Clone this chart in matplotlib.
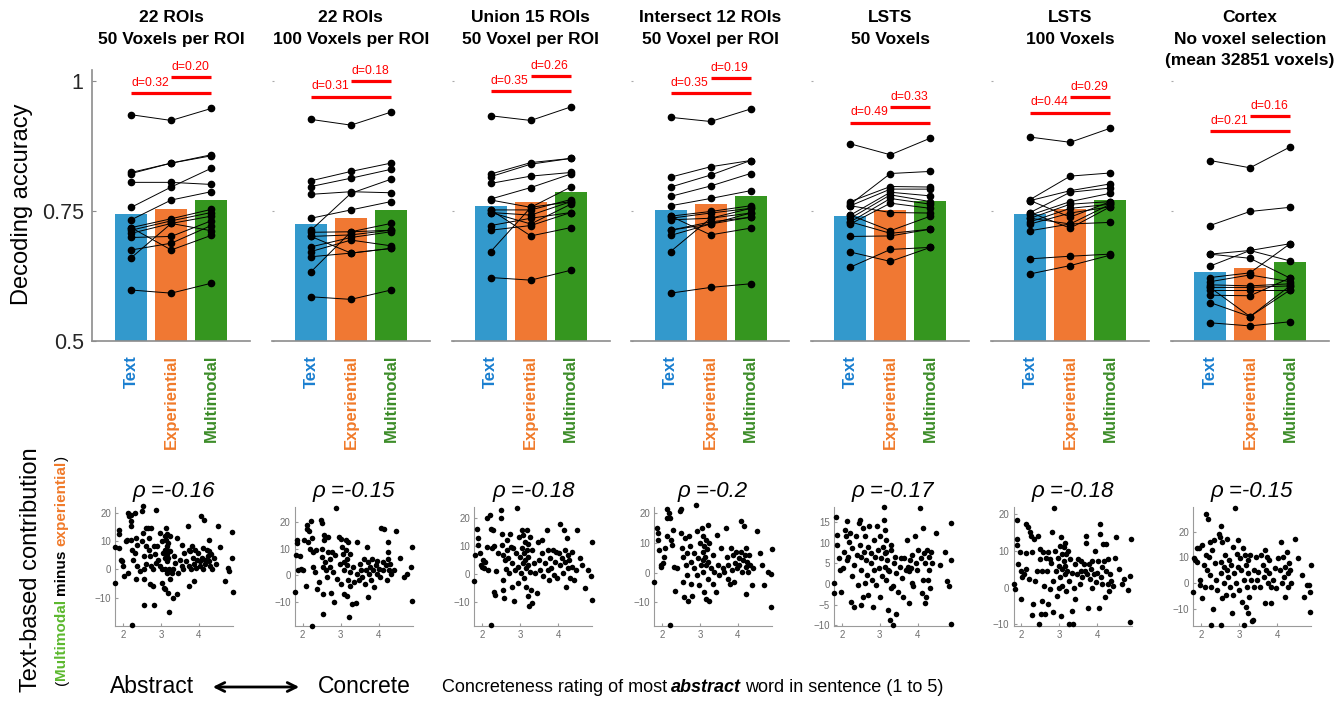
import matplotlib
matplotlib.use('Agg')
import matplotlib.pyplot as plt
from matplotlib.patches import FancyArrowPatch

plt.rcParams['font.family'] = ['Liberation Sans', 'DejaVu Sans']

# ---- top row: decoding accuracy ----
titles = [["22 ROIs", "50 Voxels per ROI"],
          ["22 ROIs", "100 Voxels per ROI"],
          ["Union 15 ROIs", "50 Voxel per ROI"],
          ["Intersect 12 ROIs", "50 Voxel per ROI"],
          ["LSTS", "50 Voxels"],
          ["LSTS", "100 Voxels"],
          ["Cortex", "No voxel selection", "(mean 32851 voxels)"]]
models = ["Text", "Experiential", "Multimodal"]

text_mean = [0.744, 0.725, 0.760, 0.751, 0.741, 0.745, 0.633]
exp_mean = [0.754, 0.736, 0.767, 0.764, 0.751, 0.754, 0.640]
multi_mean = [0.771, 0.752, 0.786, 0.778, 0.769, 0.771, 0.651]

d_text_multi = [0.32, 0.31, 0.35, 0.35, 0.49, 0.44, 0.21]
d_exp_multi = [0.20, 0.18, 0.26, 0.19, 0.33, 0.29, 0.16]

# per-subject accuracies (14 subjects)
p1_text = [.935, .824, .822, .805, .757, .733, .718, .713, .707, .699, .675, .660, .718, .598]
p1_exp = [.924, .842, .842, .805, .796, .771, .735, .731, .726, .701, .688, .726, .675, .592]
p1_multi = [.947, .858, .856, .801, .832, .787, .753, .747, .740, .731, .722, .712, .703, .611]

p2_text = [.926, .808, .797, .782, .736, .713, .709, .701, .681, .672, .662, .633, .701, .585]
p2_exp = [.915, .826, .813, .787, .752, .784, .710, .704, .699, .694, .669, .710, .669, .580]
p2_multi = [.940, .842, .830, .785, .768, .811, .726, .713, .710, .683, .678, .713, .678, .598]

p3_text = [.933, .821, .816, .803, .773, .771, .752, .747, .747, .722, .713, .752, .672, .622]
p3_exp = [.924, .843, .840, .817, .795, .757, .752, .742, .725, .736, .722, .702, .757, .617]
p3_multi = [.950, .851, .851, .824, .821, .796, .772, .768, .763, .747, .747, .718, .768, .636]

p4_text = [.930, .815, .796, .778, .760, .740, .736, .733, .713, .703, .740, .672, .713, .592]
p4_exp = [.922, .835, .819, .798, .774, .749, .746, .736, .729, .725, .704, .736, .725, .603]
p4_multi = [.946, .847, .847, .822, .789, .760, .755, .746, .738, .746, .717, .755, .738, .610]

p5_text = [.879, .763, .768, .760, .742, .736, .729, .725, .760, .742, .729, .701, .671, .642]
p5_exp = [.858, .822, .797, .792, .786, .781, .774, .765, .747, .712, .707, .702, .653, .676]
p5_multi = [.890, .826, .796, .792, .779, .768, .763, .755, .746, .740, .715, .715, .680, .680]

p6_text = [.892, .772, .770, .747, .742, .736, .729, .725, .770, .712, .747, .736, .658, .629]
p6_exp = [.882, .817, .789, .786, .768, .763, .755, .746, .738, .725, .717, .725, .663, .645]
p6_multi = [.909, .823, .802, .794, .784, .768, .763, .758, .768, .763, .758, .728, .667, .665]

p7_text = [.847, .722, .667, .667, .644, .622, .614, .608, .603, .598, .588, .574, .603, .535]
p7_exp = [.833, .749, .674, .659, .674, .631, .627, .606, .603, .598, .587, .547, .547, .529]
p7_multi = [.873, .757, .687, .621, .654, .687, .614, .610, .606, .598, .621, .606, .598, .537]

# ---- bottom row: concreteness vs text-based contribution ----
rho = [-0.16, -0.15, -0.18, -0.2, -0.17, -0.18, -0.15]

s1_pts = [(1.79, -4.7), (1.80, 8.0), (1.90, 7.5), (1.89, 14.0), (1.89, 12.7), (1.94, 3.5), (1.98, 3.0), (2.00, 1.2), (2.07, 10.0), (2.04, -2.4),
          (2.10, 10.4), (2.13, 20.0), (2.16, 18.8), (2.20, 17.0), (2.22, 15.3), (2.22, 19.4), (2.25, -19.5), (2.20, 10.6), (2.25, 7.0), (2.27, 3.5),
          (2.31, 20.0), (2.34, 11.2), (2.31, 5.9), (2.14, -1.4), (2.34, -3.5), (2.37, 8.8), (2.37, 1.2), (2.44, -0.6), (2.49, 20.6), (2.53, 22.4),
          (2.53, 12.9), (2.51, 10.0), (2.55, 4.7), (2.55, 0.0), (2.55, -3.5), (2.55, -12.7), (2.60, 14.7), (2.62, 8.2), (2.62, 1.8), (2.66, 14.7),
          (2.69, 11.2), (2.69, 7.0), (2.70, 4.7), (2.72, -5.3), (2.75, 14.7), (2.75, 1.2), (2.78, -5.9), (2.80, 0.0), (2.81, -12.7), (2.82, 8.2),
          (2.84, 5.3), (2.88, 21.2), (2.88, 2.4), (2.90, 8.2), (2.93, 3.5), (2.97, 1.2), (2.97, 12.9), (3.02, 0.0), (3.02, -4.7), (3.04, 10.0),
          (3.06, 5.9), (3.08, -6.5), (3.10, 11.8), (3.10, 7.0), (3.10, 4.1), (3.10, 0.0), (3.12, -7.0), (3.13, 14.7), (3.13, 10.6), (3.15, 8.2),
          (3.15, 5.3), (3.15, 2.9), (3.15, -1.2), (3.17, 12.4), (3.17, 7.0), (3.19, -8.2), (3.19, 9.4), (3.19, 4.1), (3.22, -15.0), (3.22, 0.0),
          (3.24, 11.8), (3.24, 6.5), (3.24, -3.5), (3.28, -1.2), (3.31, -10.0), (3.33, 0.0), (3.35, 4.7), (3.37, 2.4), (3.42, -8.8), (3.43, 11.2),
          (3.46, -1.2), (3.50, 3.5), (3.55, 8.8), (3.55, 1.2), (3.59, 0.0), (3.61, 5.9), (3.66, 2.9), (3.71, 15.5), (3.73, 7.0), (3.73, -5.9),
          (3.75, 1.2), (3.77, 6.5), (3.78, 0.0), (3.81, 8.2), (3.84, 4.1), (3.86, 1.8), (3.88, -4.1), (3.90, 7.0), (3.93, 0.6), (3.95, 3.5),
          (3.99, 5.9), (4.02, 2.9), (4.04, 1.2), (4.05, 18.8), (4.08, 4.1), (4.11, 7.6), (4.11, 0.0), (4.14, 17.6), (4.17, 3.5), (4.17, 1.8),
          (4.21, 7.0), (4.23, 4.7), (4.26, 10.6), (4.26, 6.5), (4.28, 2.9), (4.30, 1.2), (4.32, 5.3), (4.35, 0.0), (4.39, 4.1), (4.46, 1.8),
          (4.50, 15.3), (4.57, 8.0), (4.70, -4.1), (4.76, 0.6), (4.79, -0.6), (4.88, 13.2), (4.88, 4.1), (4.89, -7.8)]

s2_pts = [(1.80, -6.3), (1.82, 7.6), (1.84, 13.3), (1.86, 12.0), (1.88, 1.9), (1.93, 7.2), (1.96, 2.5), (2.02, 1.9), (2.04, 13.3), (2.09, -3.8),
          (2.11, 19.0), (2.12, 17.3), (2.15, 12.7), (2.18, 16.5), (2.20, 10.0), (2.21, 20.3), (2.24, 14.0), (2.24, -19.0), (2.27, 8.9), (2.28, 3.2),
          (2.33, 1.3), (2.36, 9.5), (2.37, -5.0), (2.44, -2.5), (2.48, 20.9), (2.51, 19.6), (2.51, 10.0), (2.51, 7.0), (2.53, 3.2), (2.53, -6.9),
          (2.53, -14.5), (2.55, 15.2), (2.57, 13.3), (2.60, 5.0), (2.62, 1.9), (2.64, -0.6), (2.66, 8.9), (2.68, 14.4), (2.71, 6.3), (2.73, 3.2),
          (2.75, -6.6), (2.77, 8.9), (2.80, 1.3), (2.82, -10.0), (2.86, 7.6), (2.89, 25.4), (2.91, -1.3), (2.95, 14.4), (2.98, 4.4), (3.00, -3.2),
          (3.01, 13.8), (3.04, 10.6), (3.07, 8.1), (3.08, 5.0), (3.08, 1.9), (3.10, -6.9), (3.13, 13.3), (3.13, 9.5), (3.16, 6.3), (3.16, 3.8),
          (3.17, -7.6), (3.19, 12.7), (3.19, -1.9), (3.22, -15.8), (3.24, 8.1), (3.26, 1.3), (3.26, -3.8), (3.31, -10.6), (3.33, 3.2), (3.35, -2.5),
          (3.40, -10.4), (3.42, 0.6), (3.44, 12.7), (3.48, -1.9), (3.51, 4.4), (3.53, 1.9), (3.57, -0.6), (3.62, 6.3), (3.64, -3.2), (3.66, 1.9),
          (3.69, 10.6), (3.71, -8.1), (3.72, 5.0), (3.75, 0.6), (3.78, 3.2), (3.81, -1.9), (3.84, 6.3), (3.86, 1.9), (3.88, -4.4), (3.93, 3.8),
          (3.96, 0.6), (3.97, 5.6), (4.02, 2.5), (4.04, -0.6), (4.06, 17.9), (4.11, 5.0), (4.13, 1.9), (4.15, 17.5), (4.20, 3.8), (4.22, -1.9),
          (4.24, 8.9), (4.26, 12.7), (4.26, 6.3), (4.28, 1.9), (4.31, 4.4), (4.33, 0.6), (4.40, 1.9), (4.47, 16.5), (4.56, 6.7), (4.67, -0.6),
          (4.75, 0.6), (4.86, 3.2), (4.89, 10.5), (4.88, -9.5)]

s3_pts = [(1.78, -2.7), (1.80, 6.7), (1.87, 16.2), (1.88, 12.7), (1.88, 10.3), (1.93, 7.3), (1.96, 3.2), (1.99, 2.6), (2.02, 5.0), (2.04, 2.0),
          (2.06, 4.4), (2.11, 9.7), (2.13, 19.8), (2.15, 1.4), (2.19, 21.0), (2.22, 16.2), (2.24, -18.1), (2.26, 9.1), (2.28, 15.6), (2.31, 9.9),
          (2.31, -6.6), (2.33, -7.5), (2.35, 1.2), (2.42, 7.6), (2.50, 23.0), (2.50, 19.8), (2.52, 14.4), (2.52, 10.3), (2.54, 6.7), (2.55, -2.1),
          (2.55, -5.7), (2.58, -8.6), (2.59, 5.0), (2.61, 1.7), (2.64, 12.1), (2.66, 8.5), (2.68, 5.6), (2.70, 0.2), (2.73, 14.4), (2.75, 9.7),
          (2.77, -4.5), (2.79, 3.8), (2.81, 9.1), (2.84, -9.8), (2.86, 1.4), (2.88, 7.3), (2.90, 23.7), (2.93, 2.6), (2.95, -3.3), (2.96, 13.3),
          (2.99, 6.2), (3.02, 0.2), (3.04, 15.6), (3.05, 9.1), (3.08, 3.8), (3.08, 13.8), (3.11, 7.3), (3.11, -1.5), (3.12, 11.5), (3.12, 5.0),
          (3.14, 2.0), (3.14, -4.5), (3.17, 15.6), (3.17, 8.5), (3.19, 6.2), (3.19, -8.0), (3.21, 10.6), (3.21, 3.2), (3.23, -11.6), (3.26, 13.3),
          (3.26, 0.8), (3.28, -5.7), (3.30, 8.5), (3.32, -10.4), (3.35, 3.8), (3.39, 0.2), (3.43, -6.9), (3.46, 11.5), (3.48, 5.0), (3.52, 1.4),
          (3.57, 12.1), (3.58, 7.3), (3.61, -0.9), (3.65, 3.8), (3.70, 15.6), (3.73, 8.5), (3.74, 1.4), (3.76, -2.1), (3.79, 5.6), (3.81, 2.0),
          (3.85, 8.5), (3.88, -0.4), (3.92, 4.4), (3.94, 7.9), (3.96, -1.5), (4.01, 7.3), (4.05, 18.0), (4.05, 3.2), (4.10, 5.6), (4.12, 0.2),
          (4.14, 15.6), (4.17, 8.5), (4.19, 4.4), (4.20, -4.5), (4.23, 12.7), (4.26, 2.0), (4.27, 6.7), (4.29, 5.0), (4.32, -1.5), (4.35, 7.9),
          (4.36, 2.6), (4.41, -2.1), (4.47, 1.4), (4.50, 15.6), (4.58, 5.6), (4.63, 3.2), (4.70, -5.1), (4.79, 1.4), (4.85, -0.9), (4.89, 11.5),
          (4.88, -9.2)]

s4_pts = [(1.78, -3.2), (1.87, 15.0), (1.88, 13.3), (1.88, 11.0), (1.91, 7.6), (1.96, 2.5), (1.97, 1.9), (2.03, 3.1), (2.06, 5.3), (2.09, 8.2),
          (2.12, 12.2), (2.13, 21.3), (2.13, 18.4), (2.18, 20.1), (2.20, 18.4), (2.22, -17.4), (2.24, 11.0), (2.27, 9.3), (2.29, 14.4), (2.31, 1.9),
          (2.34, -6.0), (2.40, 1.4), (2.47, 20.7), (2.51, 21.3), (2.51, 13.3), (2.53, 8.2), (2.56, 5.3), (2.56, -3.2), (2.58, -8.3), (2.60, 11.6),
          (2.62, 2.5), (2.65, 6.5), (2.67, -0.9), (2.68, -9.4), (2.71, 12.2), (2.74, 8.8), (2.76, -3.8), (2.77, 3.6), (2.80, -7.7), (2.83, 6.5),
          (2.84, 1.4), (2.89, 22.7), (2.92, -0.9), (2.93, 13.9), (2.95, 4.8), (2.98, -4.3), (3.00, 9.9), (3.02, 2.5), (3.04, 15.0), (3.07, 7.0),
          (3.07, 0.2), (3.09, 12.2), (3.09, 4.2), (3.11, 8.8), (3.11, -6.6), (3.13, 5.3), (3.16, 11.0), (3.16, 2.5), (3.16, -8.9), (3.18, 8.0),
          (3.20, 16.1), (3.20, -2.0), (3.22, 3.6), (3.24, 9.9), (3.24, -9.4), (3.29, 1.4), (3.33, -3.8), (3.33, 5.9), (3.38, 0.2), (3.42, -6.6),
          (3.45, 12.7), (3.47, 2.5), (3.51, -0.9), (3.56, 8.2), (3.60, 1.4), (3.64, 0.2), (3.69, 15.0), (3.72, 5.3), (3.73, -2.0), (3.75, 2.5),
          (3.78, -3.8), (3.82, 8.2), (3.84, 0.8), (3.87, 5.9), (3.89, -3.2), (3.91, 3.1), (3.96, 7.0), (3.98, 1.4), (4.02, 4.8), (4.04, 2.5),
          (4.07, 17.3), (4.09, 7.0), (4.11, 0.2), (4.13, 4.2), (4.16, 15.6), (4.18, 5.9), (4.20, 1.9), (4.22, -7.2), (4.22, 8.2), (4.25, 3.6),
          (4.27, 0.2), (4.28, 5.9), (4.31, 2.5), (4.36, -4.3), (4.40, 1.4), (4.49, 13.9), (4.58, 6.5), (4.64, 2.5), (4.69, -4.1), (4.80, 0.2),
          (4.87, -0.3), (4.89, 8.0), (4.87, -11.4)]

s5_pts = [(1.80, 0.2), (1.80, -2.1), (1.84, 16.3), (1.87, 11.9), (1.88, 9.4), (1.93, 6.2), (1.96, 3.4), (1.99, -1.9), (2.02, 3.8), (2.06, 7.8),
          (2.08, 13.1), (2.11, 11.5), (2.13, 5.8), (2.15, 15.1), (2.17, 6.6), (2.20, 10.2), (2.22, 12.3), (2.24, -4.3), (2.26, 8.6), (2.28, 1.8),
          (2.31, -5.5), (2.33, 4.6), (2.37, 11.5), (2.40, 7.0), (2.42, -0.2), (2.46, 14.7), (2.49, 15.5), (2.49, 9.4), (2.51, 6.6), (2.52, 3.4),
          (2.52, -5.1), (2.55, -3.1), (2.55, 13.5), (2.58, 7.8), (2.60, 0.2), (2.61, 11.5), (2.64, 5.8), (2.67, 2.2), (2.68, 9.0), (2.70, -2.7),
          (2.73, 13.9), (2.76, 5.0), (2.77, 7.4), (2.79, 1.0), (2.82, -5.5), (2.84, 3.4), (2.86, 10.6), (2.88, 6.6), (2.91, -0.2), (2.93, 13.9),
          (2.95, 8.2), (2.97, 3.8), (3.00, -3.1), (3.02, 11.5), (3.04, 6.2), (3.06, 1.8), (3.08, 9.0), (3.11, 18.7), (3.11, 15.5), (3.13, 13.1),
          (3.13, 4.2), (3.15, 7.4), (3.17, 10.6), (3.17, 1.0), (3.20, 5.8), (3.22, -6.3), (3.24, 3.0), (3.26, -8.7), (3.29, 8.2), (3.31, -1.0),
          (3.35, -9.9), (3.17, 7.8), (3.22, 3.4), (3.31, 9.4), (3.35, -0.6), (3.38, 5.0), (3.40, 6.6), (3.44, 2.6), (3.44, -7.3), (3.49, -1.9),
          (3.53, 4.2), (3.56, 6.2), (3.60, 1.4), (3.62, -3.1), (3.65, 6.2), (3.69, 3.4), (3.71, 10.6), (3.74, 4.2), (3.76, 3.0), (3.77, -4.7),
          (3.80, 5.8), (3.83, 3.8), (3.84, 7.0), (3.86, 0.2), (3.89, -0.6), (3.93, 11.5), (3.95, 5.0), (3.98, 3.4), (4.02, 8.2), (4.07, 18.3),
          (4.09, 6.2), (4.11, -2.3), (4.13, 1.0), (4.15, 13.5), (4.18, 7.4), (4.20, 5.0), (4.20, -4.7), (4.22, -3.1), (4.24, 8.2), (4.27, 1.0),
          (4.29, 6.6), (4.31, 3.4), (4.33, -1.0), (4.36, 7.8), (4.39, 5.0), (4.49, 12.3), (4.60, 4.6), (4.72, 7.8), (4.78, 0.6), (4.82, -0.6),
          (4.87, 5.8), (4.89, 14.7), (4.89, -9.7)]

s6_pts = [(1.80, 0.9), (1.82, -0.5), (1.87, 18.5), (1.89, 13.3), (1.89, 11.5), (1.91, 6.4), (1.96, 9.6), (1.98, 4.6), (2.00, -3.2), (2.02, 2.8),
          (2.07, 3.7), (2.11, 5.0), (2.13, 9.4), (2.13, 17.4), (2.18, 16.5), (2.20, 2.3), (2.22, 15.1), (2.25, 14.2), (2.27, -7.5), (2.28, 9.6),
          (2.31, -4.6), (2.34, 13.3), (2.36, 1.8), (2.40, 4.6), (2.44, 14.2), (2.46, -10.0), (2.49, 10.5), (2.50, 7.8), (2.52, -7.3), (2.53, 4.6),
          (2.55, -3.7), (2.58, 9.6), (2.60, 0.5), (2.62, -7.3), (2.64, 8.2), (2.67, 4.6), (2.69, -4.6), (2.71, 9.6), (2.74, -0.5), (2.76, 7.8),
          (2.78, 6.8), (2.80, 15.1), (2.82, -6.8), (2.84, 1.8), (2.87, 21.7), (2.89, 10.0), (2.91, 4.6), (2.93, -2.3), (2.96, 8.2), (2.98, 0.0),
          (3.00, 5.9), (3.02, 11.4), (3.02, 2.8), (3.05, 13.7), (3.05, -7.8), (3.07, 9.1), (3.07, 5.0), (3.08, 0.5), (3.11, 11.0), (3.11, 7.3),
          (3.14, 3.7), (3.16, 12.3), (3.16, 5.9), (3.17, 9.1), (3.17, -0.9), (3.20, 4.6), (3.23, 10.0), (3.24, -10.0), (3.26, 1.8), (3.29, 7.8),
          (3.32, -6.4), (3.33, 4.1), (3.35, -10.0), (3.38, 0.0), (3.40, 6.4), (3.42, -3.2), (3.47, 3.7), (3.49, 7.8), (3.53, 0.9), (3.56, 4.6),
          (3.58, 7.3), (3.60, 2.8), (3.64, 6.4), (3.67, 4.6), (3.71, 14.2), (3.71, 12.3), (3.73, 3.7), (3.76, -5.5), (3.78, 6.4), (3.80, 2.3),
          (3.82, 5.0), (3.85, 0.0), (3.87, 7.3), (3.91, 3.7), (3.94, 10.0), (3.96, 1.4), (4.00, 4.1), (4.03, 7.3), (4.04, -5.5), (4.06, 17.4),
          (4.06, 14.6), (4.09, 2.8), (4.12, 5.5), (4.13, 0.9), (4.15, 11.9), (4.18, 7.3), (4.20, -2.7), (4.22, 4.6), (4.24, 11.9), (4.27, 0.9),
          (4.29, 7.8), (4.31, -0.9), (4.33, 3.7), (4.36, 1.8), (4.40, 0.5), (4.47, 8.0), (4.49, 13.7), (4.58, 5.0), (4.65, 0.9), (4.71, 2.3),
          (4.80, -0.7), (4.86, 3.2), (4.89, 13.3), (4.86, -9.3)]

s7_pts = [(1.79, -3.2), (1.80, 9.6), (1.85, 9.0), (1.89, 8.3), (1.88, 13.5), (1.94, 13.5), (1.96, -0.6), (1.98, 1.3), (2.03, 14.7), (2.03, -5.8),
          (2.07, 7.1), (2.09, -1.3), (2.12, 10.9), (2.14, 26.9), (2.16, 5.1), (2.18, 25.0), (2.20, 10.3), (2.22, 3.2), (2.23, 16.0), (2.25, -16.3),
          (2.27, -1.3), (2.29, 12.8), (2.31, -10.0), (2.34, 16.7), (2.36, 7.7), (2.38, 1.3), (2.43, -2.6), (2.47, 19.2), (2.50, 17.9), (2.52, 8.3),
          (2.52, -16.3), (2.53, 22.1), (2.53, 3.8), (2.56, -5.8), (2.56, 16.0), (2.59, 6.4), (2.60, 0.0), (2.62, 10.9), (2.65, -4.5), (2.68, 5.1),
          (2.69, 17.3), (2.71, 2.6), (2.74, 9.0), (2.76, -1.3), (2.78, 7.1), (2.80, -11.5), (2.83, 14.1), (2.85, -4.5), (2.87, 3.8), (2.89, 29.2),
          (2.92, 0.0), (2.94, 11.5), (2.96, 6.4), (2.98, 16.7), (3.00, -2.6), (3.03, 9.6), (3.05, 5.1), (3.07, -7.1), (3.09, 13.5), (3.12, -16.3),
          (3.14, 1.3), (3.16, 10.9), (3.18, 7.1), (3.18, -9.0), (3.21, -1.3), (3.23, 9.0), (3.23, -11.5), (3.24, 3.8), (3.27, -5.1), (3.30, 10.9),
          (3.32, 1.3), (3.33, -14.7), (3.36, -14.1), (3.39, 5.1), (3.40, -1.3), (3.45, 10.3), (3.48, 1.3), (3.51, 4.5), (3.54, -1.3), (3.58, 10.9),
          (3.63, 7.1), (3.65, 2.6), (3.67, 12.8), (3.69, -7.7), (3.72, 5.1), (3.74, 10.3), (3.76, 0.0), (3.78, 9.0), (3.80, 3.8), (3.83, -7.7),
          (3.85, -1.3), (3.89, 1.3), (3.94, 5.8), (3.98, -1.9), (4.03, 9.6), (4.07, 5.1), (4.10, 16.0), (4.12, 0.0), (4.16, 10.3), (4.19, 2.6),
          (4.20, 6.4), (4.22, -5.1), (4.25, 12.2), (4.28, 3.8), (4.29, -1.3), (4.31, 7.7), (4.34, 5.1), (4.38, 0.0), (4.47, 17.3), (4.56, 9.6),
          (4.65, 3.2), (4.72, -5.1), (4.78, -0.6), (4.83, -0.6), (4.87, -3.2), (4.90, 7.1), (4.87, -10.9)]

text_acc = [p1_text, p2_text, p3_text, p4_text, p5_text, p6_text, p7_text]
exp_acc = [p1_exp, p2_exp, p3_exp, p4_exp, p5_exp, p6_exp, p7_exp]
multi_acc = [p1_multi, p2_multi, p3_multi, p4_multi, p5_multi, p6_multi, p7_multi]
scatter_pts = [s1_pts, s2_pts, s3_pts, s4_pts, s5_pts, s6_pts, s7_pts]

# ---- styling / layout ----
bar_colors = ['#3399cc', '#f07833', '#35961f']
label_colors = ['#1a7fd0', '#f07a2a', '#3c8c28']
sc_ylims = [(-20, 22.1), (-19, 25.7), (-18.6, 23.9), (-17.9, 22), (-10.2, 18.6), (-10.5, 22), (-16.5, 29.5)]
sc_yticks = [[-10, 0, 10, 20]] * 4 + [[-10, -5, 0, 5, 10, 15], [-10, 0, 10, 20], [-10, 0, 10, 20]]

W, H = 1339, 701
fig = plt.figure(figsize=(W / 100, H / 100), dpi=100)


def fx(px):
    return px / W


def fy(py):
    return 1 - py / H


for i in range(7):
    left = 92 + 179.8 * i
    ax = fig.add_axes([fx(left), fy(341), fx(158), (341 - 70) / H])
    ax.bar([1, 2, 3], [text_mean[i], exp_mean[i], multi_mean[i]], width=0.8,
           color=bar_colors, zorder=1)
    for t, e, m in zip(text_acc[i], exp_acc[i], multi_acc[i]):
        ax.plot([1, 2, 3], [t, e, m], color='black', lw=0.7, marker='o', ms=4.5, zorder=3)
    ax.set_xlim(0.02, 3.97)
    ax.set_ylim(0.5, 1.021)

    # effect-size bars
    top = max(text_acc[i] + exp_acc[i] + multi_acc[i])
    y_long = top + 0.03
    y_short = y_long + 0.03
    ax.plot([1, 3], [y_long, y_long], color='red', lw=2.3, clip_on=False, solid_capstyle='butt')
    ax.plot([2, 3], [y_short, y_short], color='red', lw=2.3, clip_on=False, solid_capstyle='butt')
    ax.text(1, y_long + 0.008, f'd={d_text_multi[i]:.2f}', color='red', fontsize=8.7,
            ha='left', va='bottom', clip_on=False)
    ax.text(2, y_short + 0.008, f'd={d_exp_multi[i]:.2f}', color='red', fontsize=8.7,
            ha='left', va='bottom', clip_on=False)

    for s in ['top', 'right']:
        ax.spines[s].set_visible(False)
    ax.spines['bottom'].set_color('#8c8c8c')
    ax.spines['bottom'].set_linewidth(1.2)
    ax.spines['left'].set_color('#8c8c8c')
    ax.spines['left'].set_linewidth(1.2)
    ax.set_xticks([1, 2, 3])
    ax.set_xticklabels(models, rotation=90, fontweight='bold', fontsize=12)
    for lab, c in zip(ax.get_xticklabels(), label_colors):
        lab.set_color(c)
    ax.tick_params(axis='x', length=0, pad=10)
    ax.set_yticks([0.5, 0.75, 1])
    if i == 0:
        ax.set_yticklabels(['0.5', '0.75', '1'], fontsize=15.5, color='#262626')
        ax.tick_params(axis='y', direction='in', length=3, color='#8c8c8c', pad=6)
    else:
        ax.spines['left'].set_visible(False)
        ax.set_yticklabels([])
        ax.tick_params(axis='y', direction='in', length=1.5, color='#aaaaaa')

    # panel title
    cx = left + 79
    for k, line in enumerate(titles[i]):
        fig.text(fx(cx), fy(18 + 21.5 * k), line, ha='center', va='center',
                 fontsize=12.5, fontweight='bold')

    # scatter panel
    sl = 115 + 179.7 * i
    sx = fig.add_axes([fx(sl), fy(626), fx(118), 119 / H])
    xs = [p[0] for p in scatter_pts[i]]
    ys = [p[1] for p in scatter_pts[i]]
    sx.scatter(xs, ys, s=16, color='black', linewidths=0, clip_on=False, zorder=3)
    sx.set_xlim(1.79, 4.9)
    sx.set_ylim(*sc_ylims[i])
    sx.set_xticks([2, 3, 4])
    sx.set_yticks(sc_yticks[i])
    for s in ['top', 'right']:
        sx.spines[s].set_visible(False)
    for s in ['left', 'bottom']:
        sx.spines[s].set_color('#9a9a9a')
        sx.spines[s].set_linewidth(0.8)
    sx.tick_params(labelsize=7, labelcolor='#6e6e6e', color='#9a9a9a',
                   direction='in', length=2, pad=3)
    fig.text(fx(sl + 59), fy(492), f'ρ ={rho[i]:g}', ha='center', va='center',
             fontsize=16, style='italic')

# axis labels
fig.text(fx(22), fy(204), 'Decoding accuracy', rotation=90, ha='center', va='center', fontsize=17)
fig.text(fx(31), fy(570), 'Text-based contribution', rotation=90, ha='center', va='center', fontsize=17)

renderer = fig.canvas.get_renderer()

# coloured sub-label, reading bottom to top
pos = 685
sub_parts = [('(', dict(color='black'), 0),
             ('Multimodal', dict(color='#5cb82e', fontweight='bold'), 3.5),
             ('minus', dict(color='black', fontweight='bold'), 3.5),
             ('experiential', dict(color='#f07a2a', fontweight='bold'), 0),
             (')', dict(color='black'), 0)]
for txt, kw, gap in sub_parts:
    t = fig.text(fx(65.5), fy(pos), txt, rotation=90, rotation_mode='anchor',
                 ha='left', va='baseline', fontsize=11, **kw)
    bb = t.get_window_extent(renderer)
    pos -= bb.height + gap

# bottom captions
fig.text(fx(110), fy(693), 'Abstract', ha='left', va='baseline', fontsize=16.5)
fig.text(fx(318), fy(693), 'Concrete', ha='left', va='baseline', fontsize=16.5)
fig.add_artist(FancyArrowPatch((fx(210), fy(687)), (fx(302), fy(687)),
                               transform=fig.transFigure, arrowstyle='<->',
                               mutation_scale=16, lw=2, color='black'))

pos = 442
cap_parts = [('Concreteness rating of most', dict(), 4),
             ('abstract', dict(fontweight='bold', style='italic'), 4),
             ('word in sentence (1 to 5)', dict(), 0)]
for txt, kw, gap in cap_parts:
    t = fig.text(fx(pos), fy(692), txt, ha='left', va='baseline', fontsize=13, **kw)
    bb = t.get_window_extent(renderer)
    pos += bb.width + gap

fig.savefig('out.png', dpi=100)
